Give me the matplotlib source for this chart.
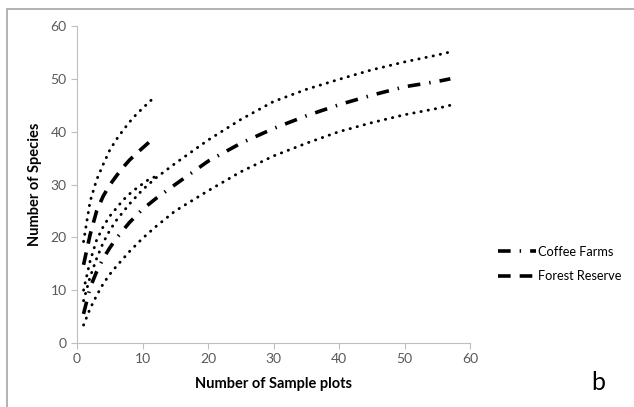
import matplotlib
matplotlib.use("Agg")
import matplotlib.pyplot as plt
from matplotlib.patches import Rectangle

plt.rcParams['font.family'] = ['Lato', 'DejaVu Sans']

# coffee farms (sample plots 1..57)
coffee_x = [1, 2, 3, 4, 5, 6, 8, 10, 12, 15, 20, 25, 30, 35, 40, 45, 50, 55, 57]
coffee_mean = [5.5, 10.5, 13.5, 16, 18, 19.8, 22.8, 25.3, 27.3, 30, 34.4, 37.8, 40.6, 43, 45.1, 46.9, 48.5, 49.5, 50]
coffee_upper = [8, 12.5, 16, 19, 21.3, 23.2, 26.3, 29, 31.2, 34, 38.4, 42.3, 45.7, 48, 49.9, 51.7, 53.2, 54.5, 55.1]
coffee_lower = [3.4, 6.5, 9, 11.2, 13, 14.5, 17.3, 19.8, 22, 25, 28.8, 32.4, 35.4, 37.8, 40, 41.7, 43.2, 44.4, 45]

# forest reserve (sample plots 1..12)
forest_x = [1, 2, 3, 4, 5, 6, 7, 8, 9, 10, 11, 12]
forest_mean = [14.8, 20.5, 25, 27.8, 29.9, 31.6, 33.2, 34.6, 35.8, 36.9, 38, 39]
forest_upper = [19.2, 26.8, 30.9, 33.8, 36.5, 38.5, 40.2, 41.8, 43.2, 44.4, 45.6, 46.7]
forest_lower = [10, 15.5, 19.5, 22, 24, 25.5, 27, 28.2, 29.2, 30.1, 31, 31.5]

xticks = [0, 10, 20, 30, 40, 50, 60]
yticks = [0, 10, 20, 30, 40, 50, 60]

fig = plt.figure(figsize=(6.34, 4.07), dpi=100)
ax = fig.add_axes([77/634, 1 - 343/407, (470-77)/634, (343-26)/407])

dot = (0, (0.1, 2.4))
ax.plot(coffee_x, coffee_upper, color='black', lw=2.1, ls=dot, dash_capstyle='round')
ax.plot(coffee_x, coffee_lower, color='black', lw=2.1, ls=dot, dash_capstyle='round')
ax.plot(forest_x, forest_upper, color='black', lw=2.1, ls=dot, dash_capstyle='round')
ax.plot(forest_x, forest_lower, color='black', lw=2.1, ls=dot, dash_capstyle='round')

l1, = ax.plot(coffee_x, coffee_mean, color='black', lw=2.6, ls=(0, (3.5, 2.5, 0.4, 2.5)),
              label='Coffee Farms')
l2, = ax.plot(forest_x, forest_mean, color='black', lw=2.6, ls=(0, (3.5, 2.5)),
              label='Forest Reserve')

ax.set_xlim(0, 60)
ax.set_ylim(0, 60)
ax.set_xticks(xticks)
ax.set_yticks(yticks)
for s in ['top', 'right']:
    ax.spines[s].set_visible(False)
for s in ['left', 'bottom']:
    ax.spines[s].set_color('#bfbfbf')
ax.tick_params(colors='#bfbfbf', labelcolor='#595959', labelsize=10, length=4, direction='out')

ax.set_xlabel('Number of Sample plots', fontsize=10.5, fontweight='bold', labelpad=8)
ax.set_ylabel('Number of Species', fontsize=10.5, fontweight='bold', labelpad=6)

fig.legend(handles=[l1, l2], loc='center left', bbox_to_anchor=(486/634, 1 - 264/407),
           frameon=False, fontsize=9.2, handlelength=3.0, handletextpad=0.15, labelspacing=1.0)

fig.text(598/634, 1 - 383/407, 'b', fontsize=18, ha='center', va='center')

# outer frame
fig.patches.append(Rectangle((7/634, -0.1), 1.1, 1 - 9/407 + 0.1, transform=fig.transFigure,
                             fill=False, edgecolor='#a6a6a6', lw=1.2))

fig.savefig('out.png', dpi=100)
